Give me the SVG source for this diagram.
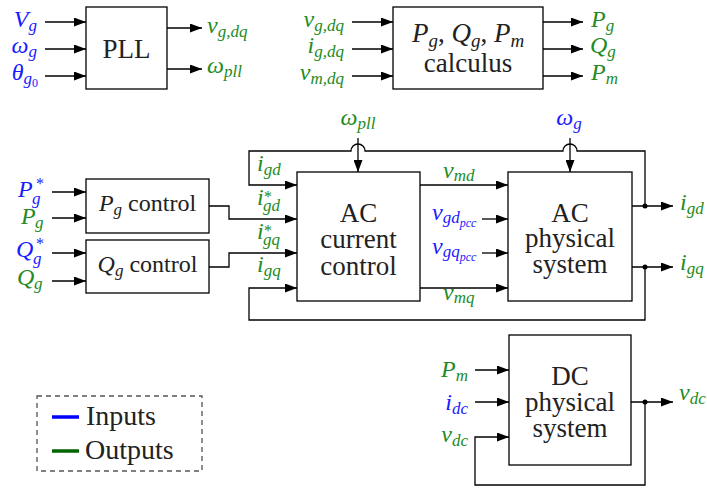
<svg xmlns="http://www.w3.org/2000/svg" width="707" height="488" viewBox="0 0 707 488">
<defs>
<marker id="a" markerWidth="12" markerHeight="9" refX="12" refY="4.5" orient="auto" markerUnits="userSpaceOnUse"><path d="M0,0 L12,4.5 L0,9 z" fill="#000"/></marker>
<style>
text{font-family:"Liberation Serif","Times New Roman",Tinos,"DejaVu Serif","Noto Serif","Nimbus Roman","FreeSerif","Latin Modern Roman","CMU Serif",Times,Georgia,serif}
.box{fill:#fff;stroke:#000;stroke-width:1.3}
.w{fill:none;stroke:#000;stroke-width:1.3}
.ar{marker-end:url(#a)}
.bt{font-size:27px;fill:#222;text-anchor:middle}
.ct{font-size:24px;fill:#222;text-anchor:middle}
.m{font-style:italic;font-size:24px}
.s{font-size:17px}
.ss{font-size:12px}
.st{font-size:16px;font-style:normal}
.b{fill:#1a1aff}
.g{fill:#228b22}
.e{text-anchor:end}
.c{text-anchor:middle}
.dot{fill:#000}
.lg{font-size:28px;fill:#222}
</style>
</defs>

<g id="connectors">
<path class="w ar" d="M45,22H86"/>
<path class="w ar" d="M45,49H86"/>
<path class="w ar" d="M45,76H86"/>
<path class="w ar" d="M167,28H202"/>
<path class="w ar" d="M167,69H202"/>
<path class="w ar" d="M352,22H393"/>
<path class="w ar" d="M352,49H393"/>
<path class="w ar" d="M352,76H393"/>
<path class="w ar" d="M543,22H583"/>
<path class="w ar" d="M543,49H583"/>
<path class="w ar" d="M543,76H583"/>
<path class="w ar" d="M52,192H86"/>
<path class="w ar" d="M52,218H86"/>
<path class="w ar" d="M52,253H86"/>
<path class="w ar" d="M52,281H86"/>
<path class="w ar" d="M209,206H229V219H297"/>
<path class="w ar" d="M209,267H229V253H297"/>
<path class="w ar" d="M645,206V151H577A7,7 0 0 0 563,151H365A7,7 0 0 0 351,151H249V185H297"/>
<path class="w ar" d="M645,267V320H249V288H297"/>
<path class="w ar" d="M358,138V172"/>
<path class="w ar" d="M570,138V172"/>
<path class="w ar" d="M420,185H508"/>
<path class="w ar" d="M420,288H508"/>
<path class="w ar" d="M482,219H508"/>
<path class="w ar" d="M482,253H508"/>
<path class="w ar" d="M632,206H673"/>
<path class="w ar" d="M632,267H673"/>
<circle class="dot" cx="645" cy="206" r="2.5"/>
<circle class="dot" cx="645" cy="267" r="2.5"/>
<path class="w ar" d="M475,370H509"/>
<path class="w ar" d="M475,402H509"/>
<path class="w ar" d="M645,402V485H475V437H509"/>
<path class="w ar" d="M631,402H673"/>
<circle class="dot" cx="645" cy="402" r="2.5"/>
</g>

<g id="pll">
<rect class="box" x="86" y="7" width="81" height="82"/>
<text class="bt" x="126.5" y="58">PLL</text>
</g>

<g id="calculus">
<rect class="box" x="393" y="7" width="150" height="82"/>
<text class="bt" x="468" y="42"><tspan font-style="italic">P</tspan><tspan font-style="italic" font-size="19" dy="5">g</tspan><tspan dy="-5">, </tspan><tspan font-style="italic">Q</tspan><tspan font-style="italic" font-size="19" dy="5">g</tspan><tspan dy="-5">, </tspan><tspan font-style="italic">P</tspan><tspan font-style="italic" font-size="19" dy="5">m</tspan></text>
<text class="bt" x="468" y="72">calculus</text>
</g>

<g id="pg-control">
<rect class="box" x="86" y="179" width="123" height="54"/>
<text class="ct" x="147.5" y="211"><tspan font-style="italic">P</tspan><tspan font-style="italic" font-size="17" dy="4">g</tspan><tspan dy="-4"> control</tspan></text>
</g>

<g id="qg-control">
<rect class="box" x="86" y="240" width="123" height="53"/>
<text class="ct" x="147.5" y="272"><tspan font-style="italic">Q</tspan><tspan font-style="italic" font-size="17" dy="4">g</tspan><tspan dy="-4"> control</tspan></text>
</g>

<g id="ac-current-control">
<rect class="box" x="297" y="172" width="123" height="129"/>
<text class="bt" x="358.5" y="222">AC</text>
<text class="bt" x="358.5" y="248">current</text>
<text class="bt" x="358.5" y="275">control</text>
</g>

<g id="ac-physical-system">
<rect class="box" x="508" y="172" width="124" height="129"/>
<text class="bt" x="570" y="222">AC</text>
<text class="bt" x="570" y="247">physical</text>
<text class="bt" x="570" y="273">system</text>
</g>

<g id="dc-physical-system">
<rect class="box" x="509" y="335" width="122" height="130"/>
<text class="bt" x="570" y="385">DC</text>
<text class="bt" x="570" y="411">physical</text>
<text class="bt" x="570" y="437">system</text>
</g>

<g id="labels">
<text class="m b e" x="37" y="27">V<tspan class="s" dy="4">g</tspan></text>
<text class="m b e" x="37" y="53">ω<tspan class="s" dy="4">g</tspan></text>
<text class="m b e" x="38" y="80">θ<tspan class="s" dy="4">g</tspan><tspan class="ss" font-style="normal" dy="3">0</tspan></text>
<text class="m g" x="207" y="33">v<tspan class="s" dy="4">g,dq</tspan></text>
<text class="m g" x="207" y="73">ω<tspan class="s" dy="4">pll</tspan></text>

<text class="m g e" x="344" y="27">v<tspan class="s" dy="4">g,dq</tspan></text>
<text class="m g e" x="344" y="53">i<tspan class="s" dy="4">g,dq</tspan></text>
<text class="m g e" x="344" y="80">v<tspan class="s" dy="4">m,dq</tspan></text>
<text class="m g" x="591" y="27">P<tspan class="s" dy="4">g</tspan></text>
<text class="m g" x="590" y="53">Q<tspan class="s" dy="4">g</tspan></text>
<text class="m g" x="591" y="80">P<tspan class="s" dy="4">m</tspan></text>

<text class="m b"><tspan x="18" y="197">P</tspan><tspan class="st" x="36" y="189">*</tspan><tspan class="s" x="32" y="204">g</tspan></text>
<text class="m g"><tspan x="21" y="224">P</tspan><tspan class="s" x="35" y="228">g</tspan></text>
<text class="m b"><tspan x="16" y="257">Q</tspan><tspan class="st" x="36" y="249">*</tspan><tspan class="s" x="33" y="264">g</tspan></text>
<text class="m g"><tspan x="17" y="285">Q</tspan><tspan class="s" x="34" y="289">g</tspan></text>

<text class="m g" x="257" y="171">i<tspan class="s" dy="4">gd</tspan></text>
<text class="m g"><tspan x="257" y="205">i</tspan><tspan class="st" x="264" y="202">*</tspan><tspan class="s" x="263" y="211">gd</tspan></text>
<text class="m g"><tspan x="257" y="239">i</tspan><tspan class="st" x="264" y="236">*</tspan><tspan class="s" x="263" y="245">gq</tspan></text>
<text class="m g" x="257" y="272">i<tspan class="s" dy="4">gq</tspan></text>

<text class="m g c" x="358" y="125">ω<tspan class="s" dy="4">pll</tspan></text>
<text class="m b c" x="569" y="125">ω<tspan class="s" dy="4">g</tspan></text>

<text class="m g" x="443" y="178">v<tspan class="s" dy="3">md</tspan></text>
<text class="m b" x="432" y="220">v<tspan class="s" dy="3">gd</tspan><tspan class="ss" dy="4">pcc</tspan></text>
<text class="m b" x="432" y="254">v<tspan class="s" dy="3">gq</tspan><tspan class="ss" dy="4">pcc</tspan></text>
<text class="m g" x="443" y="300">v<tspan class="s" dy="3">mq</tspan></text>

<text class="m g" x="680" y="210">i<tspan class="s" dy="4">gd</tspan></text>
<text class="m g" x="680" y="270">i<tspan class="s" dy="4">gq</tspan></text>

<text class="m g e" x="468" y="377">P<tspan class="s" dy="4">m</tspan></text>
<text class="m b e" x="468" y="410">i<tspan class="s" dy="4">dc</tspan></text>
<text class="m g e" x="468" y="442">v<tspan class="s" dy="4">dc</tspan></text>
<text class="m g" x="679" y="400">v<tspan class="s" dy="4">dc</tspan></text>
</g>

<g id="legend">
<rect x="37" y="396" width="165" height="75" fill="none" stroke="#555" stroke-width="1.3" stroke-dasharray="5,4"/>
<path d="M52,417H79" stroke="#0000ff" stroke-width="3.5"/>
<path d="M52,451H79" stroke="#006400" stroke-width="3.5"/>
<text class="lg" x="86" y="425">Inputs</text>
<text class="lg" x="85" y="459">Outputs</text>
</g>
</svg>
